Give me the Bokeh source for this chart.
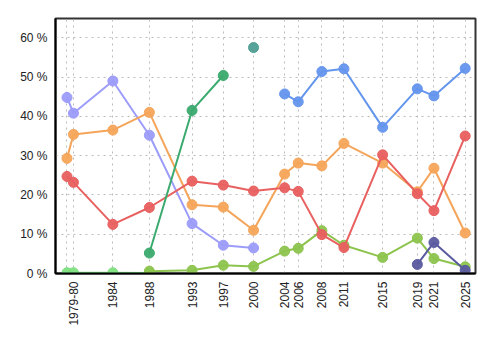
import math
import pandas as pd
from bokeh.plotting import figure
from bokeh.models import FixedTicker, PrintfTickFormatter, Range1d
from bokeh.embed import file_html
from bokeh.resources import INLINE

elections = ["1979-05-22", "1980-02-18", "1984-09-04", "1988-11-21", "1993-10-25",
             "1997-06-02", "2000-11-27", "2004-06-28", "2006-01-23", "2008-10-14",
             "2011-05-02", "2015-10-19", "2019-10-21", "2021-09-20", "2025-04-28"]
tick_labels = ["", "1979-80", "1984", "1988", "1993", "1997", "2000", "2004", "2006",
               "2008", "2011", "2015", "2019", "2021", "2025"]

pc = [44.8, 40.8, 49.0, 35.2, 12.7, 7.2, 6.5, None, None, None, None, None, None, None, None]
cpc = [None, None, None, None, None, None, None, 45.7, 43.7, 51.4, 52.1, 37.2, 47.0, 45.2, 52.2]
lib = [29.3, 35.4, 36.5, 41.0, 17.5, 16.9, 11.0, 25.3, 28.1, 27.4, 33.1, 28.1, 20.8, 26.8, 10.3]
ndp = [24.7, 23.2, 12.5, 16.8, 23.5, 22.5, 21.0, 21.8, 20.9, 9.9, 6.6, 30.2, 20.3, 16.0, 35.0]
reform = [None, None, None, 5.2, 41.5, 50.4, None, None, None, None, None, None, None, None, None]
alliance = [None, None, None, None, None, None, 57.5, None, None, None, None, None, None, None, None]
other = [0.2, 0.2, 0.2, 0.1, None, None, None, None, None, None, None, None, None, None, None]
green = [None, None, None, 0.6, 0.8, 2.1, 1.8, 5.7, 6.4, 10.9, 7.2, 4.1, 9.0, 3.8, 1.7]
ppc = [None, None, None, None, None, None, None, None, None, None, None, None, 2.3, 7.9, 0.8]

series = [
    (other, "#7EDF7E"),
    (green, "#8DC44E"),
    (pc, "#9C9CFA"),
    (lib, "#F5A55A"),
    (ndp, "#E8605F"),
    (reform, "#3BAA6E"),
    (alliance, "#4E9E93"),
    (cpc, "#6495ED"),
    (ppc, "#5A5AA0"),
]

dates = pd.to_datetime(elections)
xs = [d.year + (d.dayofyear - 1) / 365.25 for d in dates]

p = figure(width=500, height=350, output_backend="svg", toolbar_location=None,
           x_range=Range1d(1978.06, 2026.51), y_range=Range1d(0, 64.9),
           min_border_left=55, min_border_right=25, min_border_top=18, min_border_bottom=77)
p.background_fill_color = "white"
p.border_fill_color = "white"
p.outline_line_color = "#333333"
p.outline_line_width = 2

for vals, color in series:
    px = [x for x, v in zip(xs, vals) if v is not None]
    py = [v for v in vals if v is not None]
    if len(px) > 1:
        p.line(px, py, line_color=color, line_width=2)
    p.scatter(px, py, size=10, fill_color=color, line_color=color, fill_alpha=0.95)

p.xaxis.ticker = FixedTicker(ticks=xs)
p.xaxis.major_label_overrides = {x: lab for x, lab in zip(xs, tick_labels)}
p.xaxis.major_label_orientation = math.pi / 2
p.yaxis.ticker = FixedTicker(ticks=[0, 10, 20, 30, 40, 50, 60])
p.yaxis.formatter = PrintfTickFormatter(format="%d %%")

for ax in (p.xaxis, p.yaxis):
    ax.axis_line_color = "black"
    ax.axis_line_width = 2
    ax.major_tick_line_color = None
    ax.minor_tick_line_color = None
    ax.major_tick_out = 0
    ax.major_label_text_font = "Liberation Sans"
    ax.major_label_text_font_size = "12px"
    ax.major_label_text_color = "#222222"
    ax.major_label_standoff = 8

for g in (p.xgrid, p.ygrid):
    g.grid_line_color = "#bbbbbb"
    g.grid_line_dash = "2 4"
    g.grid_line_width = 1

open("out.html", "w").write(file_html(p, INLINE))
